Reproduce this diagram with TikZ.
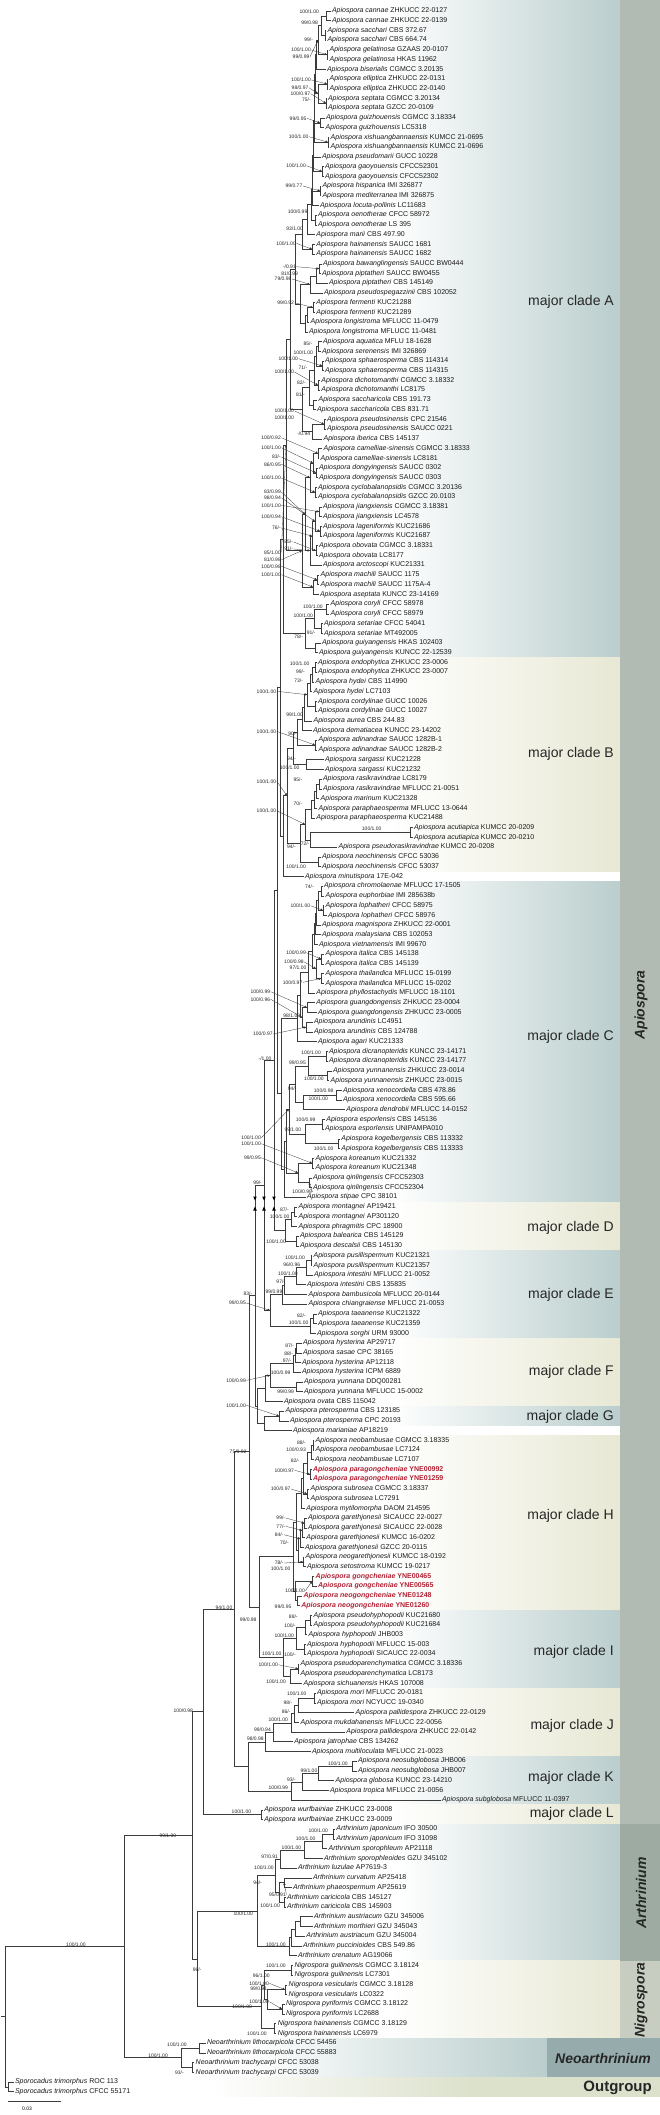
\documentclass[tikz,border=0pt]{standalone}
\usepackage{fontspec}
\setmainfont{Liberation Sans}
\usetikzlibrary{arrows.meta,calc}
\definecolor{tealb}{RGB}{186,206,205}
\definecolor{beigeb}{RGB}{232,232,213}
\definecolor{apiocol}{RGB}{178,186,180}
\definecolor{arthcol}{RGB}{158,171,162}
\definecolor{nigrocol}{RGB}{200,205,193}
\definecolor{neocol}{RGB}{150,171,171}
\definecolor{outb}{RGB}{220,225,204}
\definecolor{treeline}{RGB}{60,60,60}
\definecolor{newsp}{RGB}{178,34,52}
\newcounter{slc}
\tikzset{
 leaf/.style={anchor=west, inner xsep=1.5pt, inner ysep=0pt, outer sep=0pt, text height=5pt, text depth=1.5pt, font=\fontsize{7}{8}\selectfont, text=black!90},
 newleaf/.style={leaf, text=newsp, font=\fontsize{7}{8}\selectfont\bfseries},
 br/.style={draw=treeline, line width=0.55pt},
 sup/.style={anchor=east, inner sep=0.4pt, font=\fontsize{5}{6}\selectfont, text=black!85},
 lead/.style={draw=black!80, line width=0.3pt, -{Triangle[length=2.4pt,width=2.2pt]}},
 cladelab/.style={anchor=east, font=\fontsize{14}{16}\selectfont, text=black!85, inner sep=0pt},
 genuslab/.style={font=\fontsize{14}{16}\selectfont\bfseries\itshape, text=black!85, inner sep=0pt},
}
\newcommand\lf[5]{\node[leaf] (L#1) at ({#2-1.5},{11+(#1-1)*9.723}) {\textit{#3 #4} #5};}
\newcommand\lA[4]{\lf{#1}{#2}{Apiospora}{#3}{#4}}
\newcommand\lNew[4]{\node[newleaf] (L#1) at ({#2-1.5},{11+(#1-1)*9.723}) {\textit{Apiospora #3} #4};}
\newcommand\nd[4]{\path let \p1=($(#3)!0.5!(#4)$) in coordinate (#1) at (#2pt,\y1);\draw[br] (#1) |- (#3);\draw[br] (#1) |- (#4);}
\newcommand\sv[3]{\stepcounter{slc}\node[sup] (s\arabic{slc}) at (#2,#3) {#1};}
\newcommand\sva[4]{\stepcounter{slc}\node[sup] (s\arabic{slc}) at (#2,#3) {#1};\draw[lead] (s\arabic{slc}.east) -- (#4);}
\newcommand\band[4]{\shade[left color=white,right color=#3] (#4,#1) rectangle (620,#2);}
\begin{document}
\begin{tikzpicture}[x=1pt,y=-1pt]
\useasboundingbox (0,0) rectangle (660,2115);
\fill[white] (0,0) rectangle (660,2115);
% ---------- background bands ----------
\band{0}{657.6}{tealb}{390}
\band{657.6}{871.5}{beigeb}{390}
\band{881.2}{1202.1}{tealb}{390}
\band{1202.1}{1250.7}{beigeb}{390}
\band{1250.7}{1338.2}{tealb}{390}
\band{1338.2}{1406.3}{beigeb}{390}
\band{1406.3}{1425.7}{tealb}{390}
\band{1435.4}{1610.4}{beigeb}{390}
\band{1610.4}{1688.2}{tealb}{390}
\band{1688.2}{1756.3}{beigeb}{390}
\band{1756.3}{1804.9}{tealb}{390}
\band{1804.9}{1824.3}{beigeb}{390}
\band{1824.3}{1960.5}{tealb}{400}
\band{1960.5}{2038.2}{beigeb}{390}
\shade[left color=white,right color=tealb] (250,2038.2) rectangle (547,2077.1);
\shade[left color=white,right color=outb] (210,2077.1) rectangle (470,2096.6);
\fill[outb] (470,2077.1) rectangle (660,2096.6);
\fill[apiocol] (620,0) rectangle (660,1824.3);
\fill[arthcol] (620,1824.3) rectangle (660,1960.5);
\fill[nigrocol] (620,1960.5) rectangle (660,2038.2);
\fill[neocol] (547,2038.2) rectangle (660,2077.1);
% ---------- clade and genus labels ----------
\node[cladelab] (mA) at (614,302) {major clade A};
\node[cladelab] (mB) at (614,754) {major clade B};
\node[cladelab] (mC) at (614,1037) {major clade C};
\node[cladelab] (mD) at (614,1228) {major clade D};
\node[cladelab] (mE) at (614,1295) {major clade E};
\node[cladelab] (mF) at (614,1372) {major clade F};
\node[cladelab] (mG) at (614,1417) {major clade G};
\node[cladelab] (mH) at (614,1516) {major clade H};
\node[cladelab] (mI) at (614,1652) {major clade I};
\node[cladelab] (mJ) at (614,1726) {major clade J};
\node[cladelab] (mK) at (614,1778) {major clade K};
\node[cladelab] (mL) at (614,1814) {major clade L};
\node[genuslab,rotate=90] (gApio) at (641,1005) {Apiospora};
\node[genuslab,rotate=90] (gArth) at (641,1893) {Arthrinium};
\node[genuslab,rotate=90] (gNigr) at (641,2000) {Nigrospora};
\node[genuslab] (gNeo) at (603,2058) {Neoarthrinium};
\node[genuslab,anchor=east,font=\fontsize{15}{17}\selectfont\bfseries] (gOut) at (652,2087.5) {Outgroup};
% ---------- leaves ----------
\lA{1}{332}{cannae}{ZHKUCC 22-0127}
\lA{2}{332}{cannae}{ZHKUCC 22-0139}
\lA{3}{327.5}{sacchari}{CBS 372.67}
\lA{4}{327.5}{sacchari}{CBS 664.74}
\lA{5}{329.6}{gelatinosa}{GZAAS 20-0107}
\lA{6}{329.6}{gelatinosa}{HKAS 11962}
\lA{7}{327}{biserialis}{CGMCC 3.20135}
\lA{8}{329.6}{elliptica}{ZHKUCC 22-0131}
\lA{9}{329.6}{elliptica}{ZHKUCC 22-0140}
\lA{10}{328}{septata}{CGMCC 3.20134}
\lA{11}{328}{septata}{GZCC 20-0109}
\lA{12}{326}{guizhouensis}{CGMCC 3.18334}
\lA{13}{325.7}{guizhouensis}{LC5318}
\lA{14}{330.7}{xishuangbannaensis}{KUMCC 21-0695}
\lA{15}{330.7}{xishuangbannaensis}{KUMCC 21-0696}
\lA{16}{322}{pseudomarii}{GUCC 10228}
\lA{17}{325}{gaoyouensis}{CFCC52301}
\lA{18}{325}{gaoyouensis}{CFCC52302}
\lA{19}{322.5}{hispanica}{IMI 326877}
\lA{20}{322.5}{mediterranea}{IMI 326875}
\lA{21}{320}{locuta-pollinis}{LC11683}
\lA{22}{318}{oenotherae}{CFCC 58972}
\lA{23}{318}{oenotherae}{LS 395}
\lA{24}{316.4}{marii}{CBS 497.90}
\lA{25}{316.4}{hainanensis}{SAUCC 1681}
\lA{26}{316.4}{hainanensis}{SAUCC 1682}
\lA{27}{323}{bawanglingensis}{SAUCC BW0444}
\lA{28}{322}{piptatheri}{SAUCC BW0455}
\lA{29}{329}{piptatheri}{CBS 145149}
\lA{30}{324}{pseudospegazzinii}{CBS 102052}
\lA{31}{316.4}{fermenti}{KUC21288}
\lA{32}{316.4}{fermenti}{KUC21289}
\lA{33}{310.7}{longistroma}{MFLUCC 11-0479}
\lA{34}{309}{longistroma}{MFLUCC 11-0481}
\lA{35}{323}{aquatica}{MFLU 18-1628}
\lA{36}{322}{serenensis}{IMI 326869}
\lA{37}{325}{sphaerosperma}{CBS 114314}
\lA{38}{325}{sphaerosperma}{CBS 114315}
\lA{39}{321.4}{dichotomanthi}{CGMCC 3.18332}
\lA{40}{321.4}{dichotomanthi}{LC8175}
\lA{41}{318.6}{saccharicola}{CBS 191.73}
\lA{42}{317}{saccharicola}{CBS 831.71}
\lA{43}{327}{pseudosinensis}{CPC 21546}
\lA{44}{327}{pseudosinensis}{SAUCC 0221}
\lA{45}{323.6}{iberica}{CBS 145137}
\lA{46}{323.6}{camelliae-sinensis}{CGMCC 3.18333}
\lA{47}{320.7}{camelliae-sinensis}{LC8181}
\lA{48}{319}{dongyingensis}{SAUCC 0302}
\lA{49}{319}{dongyingensis}{SAUCC 0303}
\lA{50}{318}{cyclobalanopsidis}{CGMCC 3.20136}
\lA{51}{318}{cyclobalanopsidis}{GZCC 20.0103}
\lA{52}{323}{jiangxiensis}{CGMCC 3.18381}
\lA{53}{323}{jiangxiensis}{LC4578}
\lA{54}{323}{lageniformis}{KUC21686}
\lA{55}{323}{lageniformis}{KUC21687}
\lA{56}{319}{obovata}{CGMCC 3.18331}
\lA{57}{319}{obovata}{LC8177}
\lA{58}{323}{arctoscopi}{KUC21331}
\lA{59}{320.7}{machili}{SAUCC 1175}
\lA{60}{320.7}{machili}{SAUCC 1175A-4}
\lA{61}{320}{aseptata}{KUNCC 23-14169}
\lA{62}{330.7}{coryli}{CFCC 58978}
\lA{63}{330.7}{coryli}{CFCC 58979}
\lA{64}{324}{setariae}{CFCC 54041}
\lA{65}{324}{setariae}{MT492005}
\lA{66}{322}{guiyangensis}{HKAS 102403}
\lA{67}{319}{guiyangensis}{KUNCC 22-12539}
\lA{68}{318}{endophytica}{ZHKUCC 23-0006}
\lA{69}{318}{endophytica}{ZHKUCC 23-0007}
\lA{70}{315.7}{hydei}{CBS 114990}
\lA{71}{313.6}{hydei}{LC7103}
\lA{72}{318}{cordylinae}{GUCC 10026}
\lA{73}{318}{cordylinae}{GUCC 10027}
\lA{74}{313.6}{aurea}{CBS 244.83}
\lA{75}{313}{dematiacea}{KUNCC 23-14202}
\lA{76}{318.6}{adinandrae}{SAUCC 1282B-1}
\lA{77}{318.6}{adinandrae}{SAUCC 1282B-2}
\lA{78}{325}{sargassi}{KUC21228}
\lA{79}{325}{sargassi}{KUC21232}
\lA{80}{323}{rasikravindrae}{LC8179}
\lA{81}{323}{rasikravindrae}{MFLUCC 21-0051}
\lA{82}{320.7}{marinum}{KUC21328}
\lA{83}{318.6}{paraphaeosperma}{MFLUCC 13-0644}
\lA{84}{316.4}{paraphaeosperma}{KUC21488}
\lA{85}{414}{acutiapica}{KUMCC 20-0209}
\lA{86}{414}{acutiapica}{KUMCC 20-0210}
\lA{87}{338.6}{pseudorasikravindrae}{KUMCC 20-0208}
\lA{88}{322}{neochinensis}{CFCC 53036}
\lA{89}{322}{neochinensis}{CFCC 53037}
\lA{90}{305}{minutispora}{17E-042}
\lA{91}{324}{chromolaenae}{MFLUCC 17-1505}
\lA{92}{325.7}{euphorbiae}{IMI 285638b}
\lA{93}{325.7}{lophatheri}{CFCC 58975}
\lA{94}{328}{lophatheri}{CFCC 58976}
\lA{95}{322}{magnispora}{ZHKUCC 22-0001}
\lA{96}{322}{malaysiana}{CBS 102053}
\lA{97}{319}{vietnamensis}{IMI 99670}
\lA{98}{325.7}{italica}{CBS 145138}
\lA{99}{325.7}{italica}{CBS 145139}
\lA{100}{325.7}{thailandica}{MFLUCC 15-0199}
\lA{101}{325.7}{thailandica}{MFLUCC 15-0202}
\lA{102}{316.4}{phyllostachydis}{MFLUCC 18-1101}
\lA{103}{316.4}{guangdongensis}{ZHKUCC 23-0004}
\lA{104}{318}{guangdongensis}{ZHKUCC 23-0005}
\lA{105}{314}{arundinis}{LC4951}
\lA{106}{314}{arundinis}{CBS 124788}
\lA{107}{318}{agari}{KUC21333}
\lA{108}{329}{dicranopteridis}{KUNCC 23-14171}
\lA{109}{329}{dicranopteridis}{KUNCC 23-14177}
\lA{110}{333}{yunnanensis}{ZHKUCC 23-0014}
\lA{111}{330.7}{yunnanensis}{ZHKUCC 23-0015}
\lA{112}{343}{xenocordella}{CBS 478.86}
\lA{113}{343}{xenocordella}{CBS 595.66}
\lA{114}{346.4}{dendrobii}{MFLUCC 14-0152}
\lA{115}{326.4}{esporlensis}{CBS 145136}
\lA{116}{325}{esporlensis}{UNIPAMPA010}
\lA{117}{341.4}{kogelbergensis}{CBS 113332}
\lA{118}{341.4}{kogelbergensis}{CBS 113333}
\lA{119}{315.7}{koreanum}{KUC21332}
\lA{120}{315.7}{koreanum}{KUC21348}
\lA{121}{313}{qinlingensis}{CFCC52303}
\lA{122}{313}{qinlingensis}{CFCC52304}
\lA{123}{307}{stipae}{CPC 38101}
\lA{124}{298.6}{montagnei}{AP19421}
\lA{125}{298.6}{montagnei}{AP301120}
\lA{126}{298.6}{phragmitis}{CPC 18900}
\lA{127}{300}{balearica}{CBS 145129}
\lA{128}{300}{descalsii}{CBS 145130}
\lA{129}{313.6}{pusillispermum}{KUC21321}
\lA{130}{313.6}{pusillispermum}{KUC21357}
\lA{131}{314}{intestini}{MFLUCC 21-0052}
\lA{132}{307}{intestini}{CBS 135835}
\lA{133}{308.6}{bambusicola}{MFLUCC 20-0144}
\lA{134}{308.6}{chiangraiense}{MFLUCC 21-0053}
\lA{135}{318}{taeanense}{KUC21322}
\lA{136}{318}{taeanense}{KUC21359}
\lA{137}{317}{sorghi}{URM 93000}
\lA{138}{303}{hysterina}{AP29717}
\lA{139}{303}{sasae}{CPC 38165}
\lA{140}{302}{hysterina}{AP12118}
\lA{141}{302}{hysterina}{ICPM 6889}
\lA{142}{304}{yunnana}{DDQ00281}
\lA{143}{304}{yunnana}{MFLUCC 15-0002}
\lA{144}{284}{ovata}{CBS 115042}
\lA{145}{285.7}{pterosperma}{CBS 123185}
\lA{146}{290}{pterosperma}{CPC 20193}
\lA{147}{293}{marianiae}{AP18219}
\lA{148}{315.7}{neobambusae}{CGMCC 3.18335}
\lA{149}{315.7}{neobambusae}{LC7124}
\lA{150}{315}{neobambusae}{LC7107}
\lNew{151}{313}{paragongcheniae}{YNE00992}
\lNew{152}{313}{paragongcheniae}{YNE01259}
\lA{153}{310.7}{subrosea}{CGMCC 3.18337}
\lA{154}{310.7}{subrosea}{LC7291}
\lA{155}{306.4}{mytilomorpha}{DAOM 214595}
\lA{156}{308}{garethjonesii}{SICAUCC 22-0027}
\lA{157}{308}{garethjonesii}{SICAUCC 22-0028}
\lA{158}{306.4}{garethjonesii}{KUMCC 16-0202}
\lA{159}{305}{garethjonesii}{GZCC 20-0115}
\lA{160}{305.7}{neogarethjonesii}{KUMCC 18-0192}
\lA{161}{307}{setostroma}{KUMCC 19-0217}
\lNew{162}{315.7}{gongcheniae}{YNE00465}
\lNew{163}{318}{gongcheniae}{YNE00565}
\lNew{164}{303.6}{neogongcheniae}{YNE01248}
\lNew{165}{301.4}{neogongcheniae}{YNE01260}
\lA{166}{313.6}{pseudohyphopodii}{KUC21680}
\lA{167}{313.6}{pseudohyphopodii}{KUC21684}
\lA{168}{308.6}{hyphopodii}{JHB003}
\lA{169}{307}{hyphopodii}{MFLUCC 15-003}
\lA{170}{307}{hyphopodii}{SICAUCC 22-0034}
\lA{171}{300.7}{pseudoparenchymatica}{CGMCC 3.18336}
\lA{172}{300.7}{pseudoparenchymatica}{LC8173}
\lA{173}{303.6}{sichuanensis}{HKAS 107008}
\lA{174}{317}{mori}{MFLUCC 20-0181}
\lA{175}{317}{mori}{NCYUCC 19-0340}
\lA{176}{355.7}{pallidespora}{ZHKUCC 22-0129}
\lA{177}{300.7}{mukdahanensis}{MFLUCC 22-0056}
\lA{178}{346.4}{pallidespora}{ZHKUCC 22-0142}
\lA{179}{294.3}{jatrophae}{CBS 134262}
\lA{180}{312}{multiloculata}{MFLUCC 21-0023}
\lA{181}{358}{neosubglobosa}{JHB006}
\lA{182}{358}{neosubglobosa}{JHB007}
\lA{183}{335.7}{globosa}{KUNCC 23-14210}
\lA{184}{330}{tropica}{MFLUCC 21-0056}
\lA{185}{442}{subglobosa}{MFLUCC 11-0397}
\lA{186}{264.3}{wurfbainiae}{ZHKUCC 23-0008}
\lA{187}{264.3}{wurfbainiae}{ZHKUCC 23-0009}
\lf{188}{336.4}{Arthrinium}{japonicum}{IFO 30500}
\lf{189}{336.4}{Arthrinium}{japonicum}{IFO 31098}
\lf{190}{328.6}{Arthrinium}{sporophleum}{AP21118}
\lf{191}{324}{Arthrinium}{sporophleoides}{GZU 345102}
\lf{192}{298}{Arthrinium}{luzulae}{AP7619-3}
\lf{193}{313}{Arthrinium}{curvatum}{AP25418}
\lf{194}{293}{Arthrinium}{phaeospermum}{AP25619}
\lf{195}{287}{Arthrinium}{caricicola}{CBS 145127}
\lf{196}{287}{Arthrinium}{caricicola}{CBS 145903}
\lf{197}{314}{Arthrinium}{austriacum}{GZU 345006}
\lf{198}{314}{Arthrinium}{morthieri}{GZU 345043}
\lf{199}{306.4}{Arthrinium}{austriacum}{GZU 345004}
\lf{200}{303}{Arthrinium}{puccinioides}{CBS 549.86}
\lf{201}{298}{Arthrinium}{crenatum}{AG19066}
\lf{202}{294.6}{Nigrospora}{guilinensis}{CGMCC 3.18124}
\lf{203}{294.6}{Nigrospora}{guilinensis}{LC7301}
\lf{204}{288.7}{Nigrospora}{vesicularis}{CGMCC 3.18128}
\lf{205}{288.7}{Nigrospora}{vesicularis}{LC0322}
\lf{206}{286}{Nigrospora}{pyriformis}{CGMCC 3.18122}
\lf{207}{286}{Nigrospora}{pyriformis}{LC2688}
\lf{208}{277.8}{Nigrospora}{hainanensis}{CGMCC 3.18129}
\lf{209}{277.8}{Nigrospora}{hainanensis}{LC6979}
\lf{210}{207}{Neoarthrinium}{lithocarpicola}{CFCC 54456}
\lf{211}{207}{Neoarthrinium}{lithocarpicola}{CFCC 55883}
\lf{212}{195.7}{Neoarthrinium}{trachycarpi}{CFCC 53038}
\lf{213}{195.7}{Neoarthrinium}{trachycarpi}{CFCC 53039}
\lf{214}{15}{Sporocadus}{trimorphus}{ROC 113}
\lf{215}{15}{Sporocadus}{trimorphus}{CFCC 55171}
% ---------- clade A ----------
\nd{a1}{326}{L1}{L2}
\nd{a2}{325}{L3}{L4}
\nd{a3}{321}{a1}{a2}
\nd{a4}{327}{L5}{L6}
\nd{a5}{318}{a3}{a4}
\nd{a6}{316}{a5}{L7}
\nd{a7}{327}{L8}{L9}
\nd{a8}{326}{L10}{L11}
\nd{a9}{318}{a7}{a8}
\nd{a10}{315}{a6}{a9}
\nd{a11}{320}{L12}{L13}
\nd{a12}{314.5}{a10}{a11}
\nd{a13}{328}{L14}{L15}
\nd{a14}{314}{a12}{a13}
\nd{a15}{313.5}{a14}{L16}
\nd{a16}{322}{L17}{L18}
\nd{a17}{313}{a15}{a16}
\nd{a18}{320}{L19}{L20}
\nd{a19}{312.5}{a17}{a18}
\nd{a20}{312}{a19}{L21}
\nd{a21}{315.5}{L22}{L23}
\nd{a22}{311}{a20}{a21}
\nd{a23}{307}{a22}{L24}
\nd{a24}{312}{L25}{L26}
\nd{a25}{302}{a23}{a24}
\nd{a26}{319}{L27}{L28}
\nd{a27}{316}{a26}{L29}
\nd{a28}{310}{a27}{L30}
\nd{a29}{313}{L31}{L32}
\nd{a30}{307}{a29}{L33}
\nd{a31}{305}{a30}{L34}
\nd{a32}{300}{a28}{a31}
\nd{a33}{295}{a25}{a32}
\nd{a34}{318}{L35}{L36}
\nd{a35}{322}{L37}{L38}
\nd{a36}{316}{a34}{a35}
\nd{a37}{318}{L39}{L40}
\nd{a38}{314}{a36}{a37}
\nd{a39}{313}{L41}{L42}
\nd{a40}{309}{a38}{a39}
\nd{a41}{324}{L43}{L44}
\nd{a42}{312}{a41}{L45}
\nd{a43}{302}{a40}{a42}
\nd{a44}{318}{L46}{L47}
\nd{a45}{316}{L48}{L49}
\nd{a46}{313}{a44}{a45}
\nd{a47}{315}{L50}{L51}
\nd{a48}{310}{a46}{a47}
\nd{a49}{319}{L52}{L53}
\nd{a50}{320}{L54}{L55}
\nd{a51}{315}{a49}{a50}
\nd{a52}{316}{L56}{L57}
\nd{a53}{312}{a51}{a52}
\nd{a54}{310}{a53}{L58}
\nd{a55}{305}{a48}{a54}
\nd{a56}{317}{L59}{L60}
\nd{a57}{313}{a56}{L61}
\nd{a58}{302}{a55}{a57}
\nd{a59}{326}{L62}{L63}
\nd{a60}{321}{L64}{L65}
\nd{a61}{314}{a59}{a60}
\nd{a62}{315}{L66}{L67}
\nd{a63}{305}{a61}{a62}
\nd{a64}{290}{a33}{a43}
\nd{a65}{286}{a64}{a58}
\nd{cA}{283}{a65}{a63}
% ---------- clade B ----------
\nd{b1}{315}{L68}{L69}
\nd{b2}{312}{b1}{L70}
\nd{b3}{310}{b2}{L71}
\nd{b4}{315}{L72}{L73}
\nd{b5}{307}{b3}{b4}
\nd{b6}{304}{b5}{L74}
\nd{b7}{302}{b6}{L75}
\nd{b8}{315}{L76}{L77}
\nd{b9}{297}{b7}{b8}
\nd{b10}{306}{L78}{L79}
\nd{b11}{293}{b9}{b10}
\nd{b12}{319}{L80}{L81}
\nd{b13}{316}{b12}{L82}
\nd{b14}{314}{b13}{L83}
\nd{b15}{311}{b14}{L84}
\nd{b16}{410}{L85}{L86}
\nd{b17}{310}{b16}{L87}
\nd{b18}{305}{b15}{b17}
\nd{b19}{318}{L88}{L89}
\nd{b20}{300}{b18}{b19}
\nd{cB}{287}{b11}{b20}
\nd{cBm}{283}{cB}{L90}
% ---------- clade C ----------
\nd{c1}{321}{L91}{L92}
\nd{c2}{323}{L93}{L94}
\nd{c3}{318}{c1}{c2}
\nd{c4}{316}{c3}{L95}
\nd{c5}{315}{c4}{L96}
\nd{c6}{314}{c5}{L97}
\nd{c7}{321}{L98}{L99}
\nd{c8}{321}{L100}{L101}
\nd{c9}{316}{c7}{c8}
\nd{c10}{312}{c6}{c9}
\nd{c11}{308}{c10}{L102}
\nd{c12}{307}{L103}{L104}
\nd{c13}{306}{L105}{L106}
\nd{c14}{302}{c12}{c13}
\nd{c15}{300}{c11}{c14}
\nd{c16}{297}{c15}{L107}
\nd{c17}{326}{L108}{L109}
\nd{c18}{327}{L110}{L111}
\nd{c19}{308}{c17}{c18}
\nd{c20}{336}{L112}{L113}
\nd{c21}{303}{c20}{L114}
\nd{c22}{295}{c19}{c21}
\nd{c23}{322}{L115}{L116}
\nd{c24}{338}{L117}{L118}
\nd{c25}{305}{c23}{c24}
\nd{c26}{289}{c22}{c25}
\nd{c27}{312}{L119}{L120}
\nd{c28}{309}{L121}{L122}
\nd{c29}{298}{c27}{c28}
\nd{c30}{286}{c26}{c29}
\nd{c31}{284}{c30}{L123}
\nd{cC}{281}{c16}{c31}
% ---------- backbone (upper) ----------
\nd{bb1}{280}{cA}{cBm}
\nd{bb2}{277}{bb1}{cC}
\nd{d1}{294}{L124}{L125}
\nd{d2}{291}{d1}{L126}
\nd{d3}{296}{L127}{L128}
\nd{cD}{285}{d2}{d3}
\nd{bb3}{274}{bb2}{cD}
\nd{e1}{311}{L129}{L130}
\nd{e2}{306}{e1}{L131}
\nd{e3}{296}{e2}{L132}
\nd{e4}{284}{e3}{L133}
\nd{e5}{282}{e4}{L134}
\nd{e6}{313}{L135}{L136}
\nd{e7}{310}{e6}{L137}
\nd{cE}{270}{e5}{e7}
\nd{bb4}{264}{bb3}{cE}
\nd{f1}{296}{L138}{L139}
\nd{f2}{295}{f1}{L140}
\nd{f3}{293}{f2}{L141}
\nd{f4}{296}{L142}{L143}
\nd{f5}{270}{f3}{f4}
\nd{f6}{265}{f5}{L144}
\nd{g1}{279}{L145}{L146}
\nd{g2}{264}{g1}{L147}
\nd{fg}{257}{f6}{g2}
\nd{bbU}{255}{bb4}{fg}
% ---------- clade H, I ----------
\nd{h1}{313}{L148}{L149}
\nd{h2}{311}{h1}{L150}
\nd{h3}{310}{L151}{L152}
\nd{h4}{307}{h2}{h3}
\nd{h5}{307}{L153}{L154}
\nd{h6}{303}{h4}{h5}
\nd{h7}{301}{h6}{L155}
\nd{h8}{304}{L156}{L157}
\nd{h9}{302}{h8}{L158}
\nd{h10}{300}{h9}{L159}
\nd{h11}{303}{L160}{L161}
\nd{h12}{298}{h10}{h11}
\nd{h13}{296}{h7}{h12}
\nd{h14}{312}{L162}{L163}
\nd{h15}{297}{L164}{L165}
\nd{h16}{295}{h14}{h15}
\nd{cH}{293}{h13}{h16}
\nd{i1}{310}{L166}{L167}
\nd{i2}{305}{i1}{L168}
\nd{i3}{304}{L169}{L170}
\nd{i4}{296}{i2}{i3}
\nd{i5}{298}{L171}{L172}
\nd{i6}{290}{i5}{L173}
\nd{cI}{283}{i4}{i6}
\nd{hi}{259}{cH}{cI}
\nd{a2n}{249}{bbU}{hi}
% ---------- clade J, K, L ----------
\nd{j1}{314}{L174}{L175}
\nd{j2}{298}{j1}{L176}
\nd{j3}{294}{j2}{L177}
\nd{j4}{291}{j3}{L178}
\nd{j5}{273}{j4}{L179}
\nd{cJ}{265}{j5}{L180}
\nd{k1}{352}{L181}{L182}
\nd{k2}{318}{k1}{L183}
\nd{k3}{302}{k2}{L184}
\nd{cK}{291}{k3}{L185}
\nd{jk}{248}{cJ}{cK}
\nd{a1n}{234}{a2n}{jk}
\nd{cL}{261}{L186}{L187}
\nd{apio}{203}{a1n}{cL}
% ---------- Arthrinium, Nigrospora ----------
\nd{r1}{333}{L188}{L189}
\nd{r2}{322}{r1}{L190}
\nd{r3}{304}{r2}{L191}
\nd{r4}{280}{r3}{L192}
\nd{r5}{284}{L193}{L194}
\nd{r6}{284}{L195}{L196}
\nd{r7}{279}{r5}{r6}
\nd{r8}{275}{r4}{r7}
\nd{r9}{300}{L197}{L198}
\nd{r10}{295}{r9}{L199}
\nd{r11}{291}{r10}{L200}
\nd{r12}{289}{r11}{L201}
\nd{cR}{257}{r8}{r12}
\nd{n1}{291}{L202}{L203}
\nd{n2}{285}{L204}{L205}
\nd{n3}{282}{L206}{L207}
\nd{n4}{267}{n2}{n3}
\nd{n5}{264}{n1}{n4}
\nd{n6}{274}{L208}{L209}
\nd{cN}{261}{n5}{n6}
\nd{arni}{197}{cR}{cN}
\nd{nn1}{192}{apio}{arni}
\nd{o1}{199}{L210}{L211}
\nd{o2}{192}{L212}{L213}
\nd{cO}{181}{o1}{o2}
\nd{ing}{124}{nn1}{cO}
\nd{spo}{8}{L214}{L215}
\nd{root}{5}{ing}{spo}
\path (root) ++(-4.5,0) coordinate (rootst);
\draw[br] (rootst) -- (root);
% break marks
\foreach \bx in {255,264,274}{
  \fill[black] (\bx-1.8,1196.5) -- (\bx+1.8,1196.5) -- (\bx,1200.5) -- cycle;
  \fill[black] (\bx-1.8,1210.5) -- (\bx+1.8,1210.5) -- (\bx,1206.5) -- cycle;}
% ---------- support values ----------
\sv{100/1.00}{319.6}{11.7}
\sv{99/0.98}{318.6}{22.7}
\sv{99/-}{313.6}{40}
\sva{100/1.00}{311.4}{50}{a4}
\sva{99/0.99}{310}{56.7}{a5}
\sva{100/1.00}{311.4}{80}{a7}
\sva{98/0.97}{309}{87.7}{a9}
\sva{100/0.97}{310.7}{93.7}{a8}
\sv{75/-}{311.4}{99.3}
\sva{99/0.95}{307}{118.3}{a11}
\sva{100/1.00}{309}{136.7}{a13}
\sva{100/1.00}{306.4}{165.7}{a16}
\sva{99/0.77}{302.9}{186}{a18}
\sv{100/0.99}{307.9}{212}
\sv{93/1.00}{303.6}{228.7}
\sva{100/1.00}{296.4}{243.3}{a24}
\sva{-/0.91}{296.4}{266.7}{a26}
\sv{81/0.99}{298.6}{273.3}
\sva{79/0.98}{292}{279}{a28}
\sva{99/0.92}{294.6}{302.7}{a29}
\sv{85/-}{312.9}{343.7}
\sv{100/1.00}{313.6}{352.7}
\sva{100/1.00}{298.6}{358.7}{a35}
\sv{71/-}{307.9}{368}
\sva{100/1.00}{294.6}{372}{a37}
\sv{82/-}{306.4}{383}
\sv{81/-}{305.4}{394.3}
\sva{100/1.00}{294.6}{411}{a41}
\sv{100/1.00}{294.6}{418}
\sv{-/0.94}{310.7}{433.7}
\sva{100/0.92}{281.4}{437.7}{a44}
\sva{100/1.00}{281.4}{447.7}{a46}
\sva{83/-}{281.4}{457}{a45}
\sva{86/0.95}{281.4}{464.3}{a48}
\sva{100/1.00}{281.4}{478}{a47}
\sva{83/0.99}{281.4}{492}{a55}
\sva{98/0.94}{281.4}{497.7}{a51}
\sva{100/1.00}{281.4}{505.3}{a49}
\sva{100/0.94}{281.4}{516.7}{a50}
\sva{76/-}{281.4}{528}{a53}
\sva{85/-}{293.6}{542}{a52}
\sva{91/-}{293.6}{549}{a54}
\sva{85/1.00}{281.4}{552.3}{a65}
\sva{81/0.98}{281.4}{559.7}{a58}
\sva{100/0.98}{281.4}{566.3}{a56}
\sva{100/1.00}{281.4}{574.7}{a57}
\sv{100/1.00}{323.2}{606.3}
\sv{100/1.00}{313.6}{616}
\sv{91/-}{316}{633}
\sv{78/-}{303.6}{636.3}
\sv{100/1.00}{310}{663.7}
\sv{99/-}{305.4}{672}
\sv{73/-}{303.6}{680.3}
\sva{100/1.00}{276.8}{691.3}{b5}
\sv{99/1.00}{303.6}{714.7}
\sva{100/1.00}{276.8}{731.3}{b8}
\sv{90/-}{297.5}{733.3}
\sv{94/-}{296.4}{758.3}
\sv{100/1.00}{300}{768}
\sva{100/1.00}{276.8}{781.3}{cB}
\sv{95/-}{302.9}{780}
\sv{70/-}{302.9}{804}
\sva{100/1.00}{276.8}{810.7}{b18}
\sv{100/1.00}{382}{829}
\sv{72/-}{310}{844}
\sv{94/-}{296.4}{846.7}
\sv{100/1.00}{306.4}{866.3}
\sv{74/-}{314.3}{886.7}
\sva{100/1.00}{310.7}{905.7}{c2}
\sva{100/0.99}{306.4}{952.7}{c7}
\sva{100/0.98}{304.3}{962}{c9}
\sv{97/1.00}{307}{968}
\sva{100/0.97}{302.9}{982.3}{c8}
\sva{100/0.99}{270.7}{991.7}{c12}
\sva{100/0.96}{270.7}{999.3}{c14}
\sv{98/1.00}{300.7}{1016}
\sva{100/0.97}{273.2}{1034}{c13}
\sv{100/1.00}{321.4}{1052.7}
\sv{-/1.00}{272}{1058.5}
\sv{99/0.95}{306.4}{1062.7}
\sv{100/1.00}{324.3}{1078.7}
\sv{94/-}{297}{1088.3}
\sv{100/0.98}{334}{1090.3}
\sv{100/1.00}{328.6}{1098.7}
\sv{100/0.99}{316}{1119.3}
\sv{99/1.00}{301.8}{1130}
\sva{100/1.00}{261.4}{1137.7}{c26}
\sva{100/1.00}{261.4}{1143.7}{c27}
\sv{100/1.00}{334}{1148.3}
\sva{99/0.95}{261.4}{1157.7}{c29}
\sva{100/0.99}{312.5}{1192}{c28}
\sv{99/-}{262.5}{1182.7}
\sv{87/-}{289.3}{1210}
\sv{100/1.00}{290}{1216.7}
\sv{100/1.00}{286.4}{1241.3}
\sv{100/1.00}{305.4}{1257.7}
\sv{96/0.96}{300.7}{1264.7}
\sv{100/1.00}{298.2}{1273.7}
\sv{97/-}{285.7}{1282}
\sv{83/-}{252.9}{1293.7}
\sv{99/0.99}{282.9}{1292}
\sva{99/0.95}{246.4}{1303}{cE}
\sv{82/-}{306.4}{1316}
\sv{100/1.00}{309}{1323}
\sv{87/-}{294.6}{1345.3}
\sv{88/-}{293.6}{1353.3}
\sv{97/-}{292}{1360.7}
\sv{100/0.99}{291}{1372.3}
\sva{100/0.99}{246.4}{1380.3}{f5}
\sv{99/0.99}{294.6}{1391.7}
\sva{100/1.00}{246.4}{1405.3}{g1}
\sv{75/0.92}{247}{1451.3}
\sv{88/-}{306.4}{1442.3}
\sv{100/0.93}{306.4}{1450}
\sv{82/-}{300}{1460.3}
\sva{100/0.97}{294.6}{1470.3}{h3}
\sva{100/0.97}{291}{1489}{h5}
\sva{99/-}{285.7}{1518}{h8}
\sva{77/-}{285.7}{1526.3}{h9}
\sva{84/-}{284}{1534.7}{h10}
\sv{70/-}{289.3}{1542.3}
\sva{78/-}{284}{1563}{h11}
\sv{100/1.00}{291}{1569}
\sva{100/1.00}{305.4}{1590.7}{h14}
\sv{99/0.95}{292}{1606.7}
\sv{94/1.00}{232.9}{1608}
\sv{99/0.98}{257.1}{1619.7}
\sv{88/-}{298.2}{1616.7}
\sv{100/-}{296.4}{1625.7}
\sv{100/1.00}{294.6}{1635.7}
\sv{100/1.00}{282.1}{1654}
\sv{100/-}{296.4}{1654.7}
\sva{100/1.00}{278.6}{1664.7}{i5}
\sv{100/1.00}{286.4}{1681.3}
\sv{100/1.00}{307.1}{1694}
\sv{98/-}{292.9}{1703}
\sv{86/-}{291}{1711.7}
\sv{100/1.00}{288.6}{1719.7}
\sv{100/0.98}{193.6}{1710.7}
\sv{99/0.94}{271.4}{1729.7}
\sv{98/0.98}{264.3}{1739}
\sv{100/1.00}{348.2}{1763.3}
\sv{99/1.00}{317.9}{1770.7}
\sv{93/-}{296.4}{1779.3}
\sv{100/0.99}{288.6}{1787.7}
\sv{100/1.00}{251.8}{1811.7}
\sv{99/1.00}{176.8}{1835.3}
\sv{100/1.00}{328.6}{1830.7}
\sv{100/1.00}{316}{1839}
\sv{100/1.00}{301.8}{1847.3}
\sv{97/0.91}{278.6}{1856.7}
\sv{100/1.00}{274.3}{1867.3}
\sv{94/-}{262.5}{1882.7}
\sva{95/0.91}{286.4}{1894.3}{r5}
\sv{100/1.00}{280.4}{1905.7}
\sv{100/1.00}{253.6}{1913.3}
\sv{100/1.00}{86.3}{1944.3}
\sv{100/1.00}{286.2}{1944.3}
\sv{96/-}{202}{1969.3}
\sv{100/1.00}{286.2}{1965.3}
\sv{96/1.00}{270.2}{1976}
\sva{100/1.00}{269.4}{1983.3}{n2}
\sv{99/0.91}{267.7}{1988.7}
\sva{100/1.00}{269.4}{2001.7}{n3}
\sv{100/1.00}{252.5}{2006.7}
\sv{100/1.00}{267.3}{2033.3}
\sv{100/1.00}{187.3}{2044.3}
\sv{100/1.00}{168.4}{2055.3}
\sv{93/-}{184.3}{2072.7}
% ---------- scale bar ----------
\coordinate (sb1) at (8,2101);
\coordinate (sb2) at (61,2101);
\draw[br] (sb1) -- (sb2);
\node[font=\fontsize{5}{6}\selectfont, inner sep=0pt] (sbl) at (27,2109) {0.03};
\end{tikzpicture}
\end{document}
